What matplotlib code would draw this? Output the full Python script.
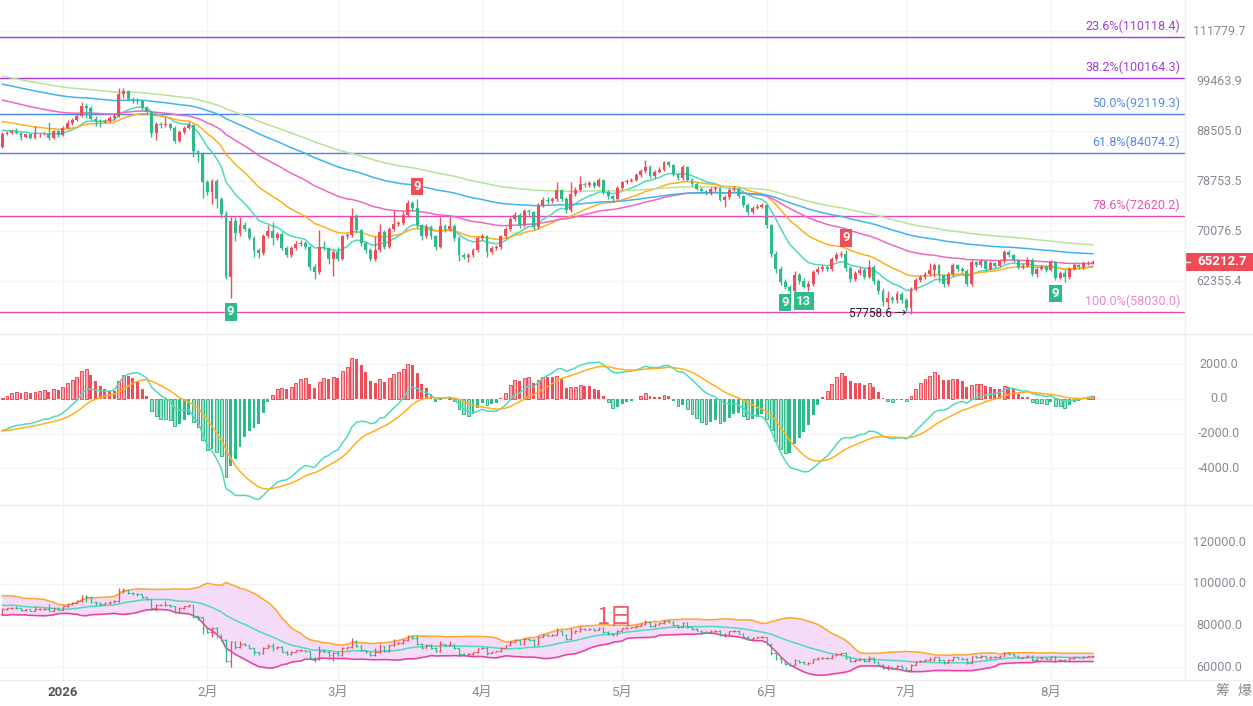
import numpy as np
import pandas as pd
import matplotlib
matplotlib.use('Agg')
import matplotlib.pyplot as plt
from matplotlib import transforms
from matplotlib.ticker import NullLocator

plt.rcParams['font.family'] = ['Roboto', 'Noto Sans CJK SC', 'DejaVu Sans']

# daily candles (thousands USDT), first candle 2025-12-19, open = previous close
start_date = '2025-12-19'
first_open = 85.3
close = [88.0, 88.1, 88.5, 88.2, 87.3, 87.8, 87.1, 87.8, 87.9, 88.0,
         87.0, 88.5, 87.6, 89.2, 90.1, 90.9, 91.6, 93.9, 93.5, 91.1,
         90.6, 90.4, 90.6, 91.3, 91.6, 96.6, 97.1, 95.4, 95.2, 95.0,
         93.4, 92.5, 88.1, 90.0, 89.7, 89.9, 89.2, 86.5, 88.4, 89.2,
         89.7, 84.5, 84.0, 78.6, 76.8, 78.8, 75.6, 73.0, 63.0, 71.8,
         69.7, 71.1, 70.5, 69.0, 67.1, 66.6, 69.3, 70.1, 69.0, 69.6,
         67.4, 66.3, 67.4, 68.0, 68.2, 67.5, 64.4, 63.7, 67.6, 67.4,
         65.7, 66.8, 65.7, 69.2, 69.4, 72.5, 70.2, 68.1, 67.1, 65.7,
         67.1, 70.0, 67.6, 70.4, 71.2, 71.4, 72.8, 74.9, 73.9, 71.0,
         69.2, 70.7, 69.2, 67.6, 70.9, 70.4, 70.9, 68.9, 66.3, 66.0,
         66.3, 67.1, 68.9, 69.2, 66.8, 67.4, 67.5, 69.2, 70.4, 72.1,
         72.8, 71.0, 73.4, 73.2, 70.7, 74.5, 75.4, 75.1, 75.5, 77.1,
         75.6, 73.6, 76.5, 77.2, 78.3, 78.0, 78.4, 77.9, 78.9, 76.8,
         76.0, 75.5, 77.5, 78.5, 78.8, 79.0, 79.8, 80.6, 81.4, 79.7,
         80.5, 80.9, 82.3, 81.7, 80.0, 79.3, 81.3, 79.0, 78.3, 77.4,
         76.9, 76.6, 77.3, 77.5, 75.4, 75.9, 77.2, 77.4, 76.0, 74.5,
         73.3, 74.0, 74.2, 74.4, 71.0, 66.5, 64.2, 62.2, 61.5, 61.0,
         63.2, 62.4, 61.5, 62.0, 63.7, 64.2, 64.4, 64.1, 65.7, 66.3,
         66.5, 64.3, 62.7, 63.6, 64.0, 63.0, 64.4, 62.4, 61.0, 59.4,
         59.9, 59.6, 60.5, 59.7, 58.6, 61.2, 62.5, 62.9, 63.4, 64.0,
         64.7, 63.2, 61.9, 63.4, 64.7, 64.2, 63.9, 61.9, 65.2, 64.7,
         65.3, 64.2, 65.0, 64.6, 65.3, 66.8, 66.2, 65.5, 64.4, 64.6,
         65.5, 63.4, 64.2, 64.5, 64.0, 65.2, 62.8, 63.6, 62.9, 64.2,
         64.7, 64.4, 65.0, 65.1, 65.2127]
high = [88.3, 88.5, 88.8, 89.2, 88.4, 88.0, 88.0, 89.5, 88.2, 88.3,
        90.4, 88.8, 88.7, 89.5, 90.9, 91.3, 92.0, 94.7, 94.6, 93.8,
        91.6, 91.0, 91.0, 91.6, 92.1, 97.8, 97.9, 97.3, 95.8, 95.5,
        95.2, 93.8, 92.7, 90.4, 90.3, 91.5, 90.2, 89.5, 88.8, 89.5,
        90.4, 90.0, 84.7, 84.2, 79.0, 79.1, 79.2, 75.9, 73.4, 72.4,
        72.4, 72.5, 71.5, 70.8, 69.3, 67.4, 69.6, 71.0, 71.5, 70.0,
        69.9, 67.7, 67.7, 68.4, 68.6, 68.4, 67.8, 64.9, 70.2, 68.5,
        67.6, 67.1, 67.5, 69.5, 69.8, 74.0, 73.0, 70.5, 68.4, 67.3,
        69.3, 71.2, 70.3, 70.7, 73.6, 71.8, 73.4, 75.3, 75.2, 75.6,
        71.3, 71.2, 71.0, 69.5, 72.5, 71.2, 72.4, 71.2, 69.2, 66.6,
        66.6, 67.4, 69.2, 69.6, 69.4, 67.7, 67.9, 69.5, 70.8, 72.4,
        73.2, 73.1, 73.8, 73.8, 73.5, 74.8, 75.8, 75.9, 75.9, 78.5,
        77.4, 75.9, 78.5, 77.6, 79.6, 78.6, 78.8, 78.7, 79.3, 79.1,
        77.1, 76.3, 77.9, 78.8, 79.2, 79.4, 80.2, 81.0, 82.8, 81.7,
        80.9, 81.3, 82.6, 82.5, 82.0, 80.3, 81.7, 81.5, 79.3, 78.6,
        77.7, 77.2, 77.6, 77.9, 77.7, 76.3, 77.5, 77.8, 77.7, 76.3,
        74.8, 74.3, 74.6, 74.8, 74.6, 71.3, 66.9, 64.6, 62.6, 61.8,
        63.8, 63.6, 62.8, 62.4, 64.0, 64.6, 64.8, 64.6, 66.0, 66.7,
        66.9, 67.1, 64.6, 63.9, 64.4, 64.3, 65.5, 64.7, 62.7, 61.3,
        61.0, 60.2, 60.9, 60.8, 60.0, 61.5, 62.8, 63.3, 63.7, 65.0,
        65.0, 64.9, 63.4, 63.7, 65.0, 64.9, 64.5, 64.2, 65.5, 65.4,
        65.6, 65.5, 65.3, 65.2, 65.6, 67.1, 67.0, 66.4, 65.7, 65.0,
        65.9, 65.8, 64.5, 64.8, 64.7, 65.5, 65.4, 63.9, 64.0, 64.5,
        65.0, 64.9, 65.3, 65.4, 65.5]
low = [85.0, 87.6, 87.9, 87.9, 86.7, 87.1, 86.8, 86.9, 87.3, 87.6,
       86.7, 86.8, 87.3, 87.4, 88.9, 89.8, 90.6, 91.4, 91.3, 90.8,
       89.6, 89.4, 90.1, 90.3, 90.9, 91.4, 95.5, 95.0, 94.6, 94.3,
       93.0, 92.0, 87.3, 86.7, 89.2, 89.3, 88.8, 86.0, 86.2, 88.0,
       88.9, 83.3, 82.4, 75.7, 76.2, 74.6, 73.9, 72.3, 62.6, 59.9,
       68.5, 69.3, 70.1, 68.6, 66.0, 65.8, 66.3, 69.0, 67.9, 68.7,
       67.0, 65.9, 65.9, 67.1, 67.7, 67.2, 64.0, 62.6, 63.4, 67.0,
       64.9, 63.1, 65.3, 65.5, 68.8, 69.1, 69.8, 67.7, 66.6, 65.3,
       65.4, 66.8, 67.2, 67.3, 70.1, 70.9, 71.1, 72.5, 73.5, 70.6,
       68.6, 68.9, 68.8, 67.1, 67.3, 70.0, 70.1, 68.5, 65.4, 65.6,
       65.2, 66.0, 66.8, 68.6, 65.9, 66.5, 67.1, 67.2, 68.9, 70.1,
       71.8, 70.6, 70.8, 72.8, 70.3, 70.4, 74.2, 74.7, 74.8, 75.2,
       75.2, 73.1, 73.3, 76.1, 77.0, 77.6, 77.7, 77.5, 77.6, 76.4,
       75.6, 75.0, 75.3, 77.2, 78.2, 78.5, 78.7, 79.5, 80.3, 79.3,
       79.4, 80.2, 80.6, 81.3, 79.7, 78.9, 79.0, 78.7, 77.9, 77.1,
       76.6, 76.2, 76.3, 77.0, 75.1, 74.2, 75.6, 76.9, 75.7, 74.1,
       72.8, 73.0, 73.7, 73.9, 70.6, 66.0, 63.6, 61.8, 61.2, 60.7,
       60.8, 62.0, 61.4, 60.9, 61.7, 63.4, 63.9, 63.8, 63.9, 65.4,
       66.0, 63.9, 62.3, 62.4, 63.3, 62.6, 62.8, 62.0, 60.5, 58.9,
       58.5, 59.2, 59.3, 59.3, 58.2, 57.7586, 61.0, 62.2, 62.7, 63.1,
       62.9, 62.2, 61.5, 61.7, 63.1, 63.9, 63.5, 61.6, 61.7, 64.4,
       64.5, 63.9, 64.0, 64.3, 64.4, 65.1, 65.9, 65.2, 64.1, 64.1,
       64.4, 63.1, 62.9, 64.0, 63.7, 63.8, 62.5, 62.6, 62.2, 62.7,
       64.0, 64.1, 64.2, 64.8, 64.9]
# closes before the first visible candle (Bollinger warm-up)
prior_close = [90.4, 86.3, 91.3, 93.4, 92.1, 89.4, 89.3, 90.4, 90.6, 92.7,
               92.0, 92.5, 90.2, 90.3, 88.2, 86.4, 87.8, 86.2, 85.5]

# EMA values at the left edge (span: start value, thousands)
ema_seed = {12: 88.8, 26: 90.7, 55: 95.4, 90: 99.0, 118: 100.8}
ema_color = {12: '#4fd9bd', 26: '#ffb020', 55: '#ef68c0', 90: '#3fb4ee', 118: '#b9e29a'}
dea_seed = -1.85

fib_pct = ['23.6%', '38.2%', '50.0%', '61.8%', '78.6%', '100.0%']
fib_level = [110118.4, 100164.3, 92119.3, 84074.2, 72620.2, 58030.0]
fib_line_color = ['#a235e0', '#a235e0', '#4a82e6', '#4a82e6', '#ec45bd', '#ec45bd']
fib_text_color = ['#a43fda', '#a43fda', '#5a88e2', '#5a88e2', '#e653b6', '#ef86c8']
price_ticks = [111779.7, 99463.9, 88505.0, 78753.5, 70076.5, 62355.4]
macd_ticks = [2000, 0, -2000, -4000]
boll_ticks = [120000, 100000, 80000, 60000]

td_index = [49, 89, 168, 172, 181, 226]
td_label = ['9', '9', '9', '13', '9', '9']
td_above = [False, True, False, False, True, False]
low_index = 195
low_value = 57758.6
last_price = 65212.7

RED, GREEN = '#ee4d5a', '#2dbb8a'
RED_L, GREEN_L = '#f7a9b0', '#9fe0c8'
GRAY = '#868b94'
GRID = '#f3f3f3'

c = np.array(close) * 1000
h = np.array(high) * 1000
l = np.array(low) * 1000
o = np.r_[first_open * 1000, c[:-1]]
n = len(c)
x = np.arange(n)
up = c >= o
col = np.where(up, RED, GREEN)


def ema(values, span, seed):
    a = 2.0 / (span + 1)
    out = []
    prev = seed
    for v in values:
        prev = a * v + (1 - a) * prev
        out.append(prev)
    return np.array(out)


emas = {s: ema(c, s, v * 1000) for s, v in ema_seed.items()}
dif = emas[12] - emas[26]
dea = ema(dif, 9, dea_seed * 1000)
hist = 2 * (dif - dea)

full = pd.Series(np.r_[np.array(prior_close) * 1000, c])
mid = full.rolling(20).mean().values[-n:]
sd = full.rolling(20).std(ddof=0).values[-n:]
upper, lower = mid + 2 * sd, mid - 2 * sd

dates = pd.date_range(start_date, periods=n)
month_idx = [i for i, d in enumerate(dates) if d.day == 1]
month_lab = ['2026' if dates[i].month == 1 else f'{dates[i].month}月' for i in month_idx]

W, H = 1253, 706
fig = plt.figure(figsize=(W / 100, H / 100), dpi=100)
fig.patch.set_facecolor('white')


def add_ax(top, bottom):
    a = fig.add_axes([0, 1 - bottom / H, 1185 / W, (bottom - top) / H])
    for sp in a.spines.values():
        sp.set_visible(False)
    a.set_xlim(-0.5, 253.8)
    a.set_xticks([])
    a.yaxis.set_major_locator(NullLocator())
    a.yaxis.set_minor_locator(NullLocator())
    for i in month_idx:
        a.axvline(i, color=GRID, lw=1, zorder=0)
    return a


ax1 = add_ax(0, 333)
ax2 = add_ax(336, 504)
ax3 = add_ax(505, 680)

label_x = 1219 / 1185

# ---- main candles
ax1.set_yscale('log')
ax1.set_ylim(55246, 120166)
ax1.yaxis.set_major_locator(NullLocator())
ax1.yaxis.set_minor_locator(NullLocator())
tr1 = transforms.blended_transform_factory(ax1.transAxes, ax1.transData)
for v in price_ticks:
    ax1.axhline(v, color=GRID, lw=1, zorder=0)
    ax1.text(label_x, v, f'{v:.1f}', transform=tr1, ha='center', va='center',
             fontsize=9, color=GRAY, clip_on=False)
for pct, lev, lc, tc in zip(fib_pct, fib_level, fib_line_color, fib_text_color):
    ax1.axhline(lev, color=lc, lw=1, zorder=1)
    ax1.annotate(f'{pct}({lev:.1f})', xy=(1180 / 1185, lev), xycoords=tr1,
                 xytext=(0, 3), textcoords='offset points', ha='right', va='bottom',
                 fontsize=9, color=tc)

for s, line in emas.items():
    ax1.plot(x, line, color=ema_color[s], lw=1.1, zorder=2)
ax1.vlines(x, l, h, colors=col, lw=1, zorder=3)
ax1.bar(x, np.abs(c - o), bottom=np.minimum(o, c), width=0.62, color=col, zorder=4)

for i, lab, above in zip(td_index, td_label, td_above):
    fc = RED if above else GREEN
    if above:
        ax1.annotate(lab, xy=(i, h[i]), xytext=(0, 4), textcoords='offset points',
                     ha='center', va='bottom', fontsize=9.5, color='white', fontweight='bold',
                     bbox=dict(boxstyle='square,pad=0.18', fc=fc, ec='none'), zorder=6)
    else:
        ax1.annotate(lab, xy=(i, l[i]), xytext=(0, -5), textcoords='offset points',
                     ha='center', va='top', fontsize=9.5, color='white', fontweight='bold',
                     bbox=dict(boxstyle='square,pad=0.18', fc=fc, ec='none'), zorder=6)

ax1.annotate(f'{low_value:.1f} →', xy=(low_index, low_value), xytext=(-3, 0),
             textcoords='offset points', ha='right', va='center', fontsize=8.5,
             color='#222222', zorder=6)

# last price tag on the right axis
ypx = ax1.transData.transform((0, last_price))[1]
tag = fig.add_axes([1185 / W, (ypx - 9) / H, 68 / W, 18 / H])
tag.set_facecolor('#ef4a56')
tag.set_xticks([])
tag.set_yticks([])
for sp in tag.spines.values():
    sp.set_visible(False)
tag.text(0.55, 0.5, f'{last_price:.1f}', ha='center', va='center', color='white',
         fontsize=9.5, fontweight='bold')
tag.plot([0.0, 0.07], [0.5, 0.5], color='white', lw=1)
tag.set_xlim(0, 1)
tag.set_ylim(0, 1)

# ---- MACD
ax2.set_ylim(-6059, 3635)
tr2 = transforms.blended_transform_factory(ax2.transAxes, ax2.transData)
for v in macd_ticks:
    ax2.axhline(v, color=GRID, lw=1, zorder=0)
    ax2.text(label_x, v, f'{v:.1f}', transform=tr2, ha='center', va='center',
             fontsize=9, color=GRAY, clip_on=False)
prev = np.r_[0, hist[:-1]]
grow = np.abs(hist) >= np.abs(prev)
pos = hist >= 0
for g in (True, False):
    for p in (True, False):
        m = (grow == g) & (pos == p)
        cc = RED if p else GREEN
        if g:
            ax2.bar(x[m], hist[m], width=0.62, facecolor=RED_L if p else GREEN_L,
                    edgecolor=cc, lw=0.7, zorder=2)
        else:
            ax2.bar(x[m], hist[m], width=0.62, color=cc, zorder=2)
ax2.plot(x, dif, color='#4fd9bd', lw=1.1, zorder=3)
ax2.plot(x, dea, color='#ffb020', lw=1.1, zorder=3)

# ---- Bollinger + OHLC bars
ax3.set_ylim(53760, 137770)
tr3 = transforms.blended_transform_factory(ax3.transAxes, ax3.transData)
for v in boll_ticks:
    ax3.axhline(v, color=GRID, lw=1, zorder=0)
    ax3.text(label_x, v, f'{v:.1f}', transform=tr3, ha='center', va='center',
             fontsize=9, color=GRAY, clip_on=False)
ax3.fill_between(x, lower, upper, color='#f4dcf8', zorder=1)
ax3.plot(x, upper, color='#ffa62b', lw=1.1, zorder=2)
ax3.plot(x, lower, color='#e8409f', lw=1.1, zorder=2)
ax3.plot(x, mid, color='#4fd9bd', lw=1.1, zorder=2)
ax3.vlines(x, l, h, colors=col, lw=0.9, zorder=3)
ax3.hlines(o, x - 0.35, x, colors=col, lw=0.9, zorder=3)
ax3.hlines(c, x, x + 0.35, colors=col, lw=0.9, zorder=3)

for i, lab in zip(month_idx, month_lab):
    ax3.annotate(lab, xy=(i, 0), xycoords=('data', 'axes fraction'), xytext=(0, -4),
                 textcoords='offset points', ha='center', va='top', fontsize=9.5,
                 color='#555555' if lab == '2026' else GRAY,
                 fontweight='bold' if lab == '2026' else 'normal')

fig.text(615 / W, 1 - 617 / H, '1日', fontsize=17, color='#ee4d5a', ha='center',
         va='center', family=['Noto Sans CJK SC', 'DejaVu Sans'], alpha=0.9)
fig.text(1222 / W, 1 - 691 / H, '筹', fontsize=10, color=GRAY, ha='center', va='center',
         family=['Noto Sans CJK SC', 'DejaVu Sans'])
fig.text(1244 / W, 1 - 691 / H, '爆', fontsize=10, color=GRAY, ha='center', va='center',
         family=['Noto Sans CJK SC', 'DejaVu Sans'])

# panel borders
for yy in (334, 504.5, 680):
    fig.add_artist(plt.Line2D([0, 1], [1 - yy / H, 1 - yy / H], color='#eeeeee', lw=1))
fig.add_artist(plt.Line2D([1185 / W, 1185 / W], [1 - 680 / H, 1], color='#eeeeee', lw=1))

fig.savefig('out.png', dpi=100, facecolor='white')
